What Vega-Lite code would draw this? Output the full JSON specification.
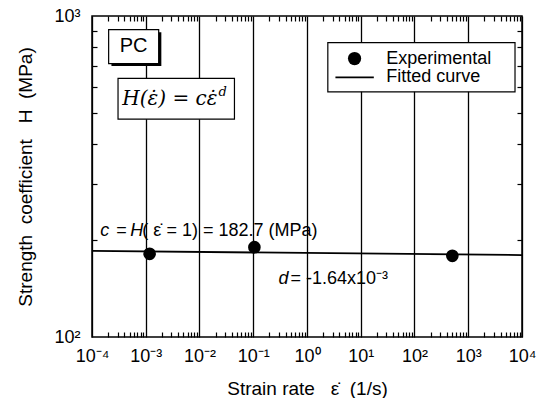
{
  "$schema": "https://vega.github.io/schema/vega-lite/v6.json",
  "width": 430,
  "height": 321,
  "autosize": {"type": "none"},
  "padding": {"left": 92, "top": 16, "right": 24, "bottom": 61},
  "background": "white",
  "config": {
    "view": {"stroke": "black", "strokeWidth": 1.5},
    "font": "Liberation Sans",
    "axis": {
      "domain": false,
      "labelFont": "Liberation Sans",
      "titleFont": "Liberation Sans",
      "labelColor": "black",
      "titleColor": "black",
      "tickColor": "black",
      "tickWidth": 1.2,
      "labelFontSize": 18,
      "titleFontSize": 19,
      "titleFontWeight": "normal",
      "labelOverlap": false,
      "labelFlush": false
    }
  },
  "resolve": {"axis": {"x": "independent", "y": "independent"}},
  "layer": [
    {
      "data": {"values": [{"x": 0.0001, "y": 185.48}, {"x": 10000, "y": 179.96}]},
      "mark": {"type": "line", "color": "black", "strokeWidth": 1.8},
      "encoding": {
        "x": {
          "field": "x", "type": "quantitative",
          "scale": {"type": "log", "domain": [0.0001, 10000]},
          "axis": {
            "orient": "bottom",
            "values": [0.0001,0.001,0.01,0.1,1,10,100,1000,10000],
            "grid": true,
            "gridColor": "black",
            "gridWidth": 1.3,
            "gridOpacity": 1,
            "ticks": false,
            "labelExpr": "['10⁻⁴','10⁻³','10⁻²','10⁻¹','10⁰','10¹','10²','10³','10⁴'][round(log(datum.value)/LN10)+4]",
            "labelPadding": 10,
            "title": "Strain rate \u00a0 ε̇ \u00a0(1/s)",
            "titlePadding": 14
          }
        },
        "y": {
          "field": "y", "type": "quantitative",
          "scale": {"type": "log", "domain": [100, 1000]},
          "axis": {
            "orient": "left",
            "values": [100,1000],
            "grid": false,
            "ticks": false,
            "labelExpr": "datum.value==100 ? '10²' : '10³'",
            "labelPadding": 12,
            "title": "Strength \u00a0coefficient \u00a0 H \u00a0(MPa)",
            "titlePadding": 18
          }
        }
      }
    },
    {
      "data": {"values": [{"x": 0.00118, "y": 181.6}, {"x": 0.105, "y": 190.5}, {"x": 506, "y": 179.0}]},
      "mark": {"type": "circle", "color": "black", "opacity": 1, "size": 160},
      "encoding": {
        "x": {
          "field": "x", "type": "quantitative",
          "scale": {"type": "log", "domain": [0.0001, 10000]},
          "axis": {
            "orient": "top",
            "values": [0.0002,0.0003,0.0004,0.0005,0.0006,0.0007,0.0008,0.0009,0.002,0.003,0.004,0.005,0.006,0.007,0.008,0.009,0.02,0.03,0.04,0.05,0.06,0.07,0.08,0.09,0.2,0.3,0.4,0.5,0.6,0.7,0.8,0.9,2,3,4,5,6,7,8,9,20,30,40,50,60,70,80,90,200,300,400,500,600,700,800,900,2000,3000,4000,5000,6000,7000,8000,9000],
            "grid": false, "labels": false, "ticks": true, "tickSize": 5, "offset": -5, "title": null
          }
        },
        "y": {
          "field": "y", "type": "quantitative",
          "scale": {"type": "log", "domain": [100, 1000]},
          "axis": {
            "orient": "right",
            "values": [200,300,400,500,600,700,800,900],
            "grid": false, "labels": false, "ticks": true, "tickSize": 5, "offset": -5, "title": null
          }
        }
      }
    },
    {
      "data": {"values": [{"x1": 0.00023, "x2": 0.00195, "y1": 698, "y2": 890}]},
      "mark": {"type": "rect", "color": "black"},
      "encoding": {
        "x": {"field": "x1", "type": "quantitative", "scale": {"type": "log", "domain": [0.0001, 10000]}, "axis": null},
        "x2": {"field": "x2"},
        "y": {"field": "y1", "type": "quantitative", "scale": {"type": "log", "domain": [100, 1000]}, "axis": null},
        "y2": {"field": "y2"}
      }
    },
    {
      "data": {"values": [
        {"x1": 0.000204, "x2": 0.00174, "y1": 711, "y2": 907},
        {"x1": 0.000305, "x2": 0.0447, "y1": 477, "y2": 639},
        {"x1": 2.44, "x2": 7413, "y1": 580.3, "y2": 826.6}
      ]},
      "mark": {"type": "rect", "fill": "white", "stroke": "black", "strokeWidth": 1.2},
      "encoding": {
        "x": {"field": "x1", "type": "quantitative", "scale": {"type": "log", "domain": [0.0001, 10000]}, "axis": null},
        "x2": {"field": "x2"},
        "y": {"field": "y1", "type": "quantitative", "scale": {"type": "log", "domain": [100, 1000]}, "axis": null},
        "y2": {"field": "y2"}
      }
    },
    {
      "data": {"values": [{"x": 0.000596, "y": 805, "label": "PC"}]},
      "mark": {"type": "text", "font": "Liberation Sans", "fontSize": 20, "align": "center", "baseline": "middle", "color": "black"},
      "encoding": {
        "x": {"field": "x", "type": "quantitative", "scale": {"type": "log", "domain": [0.0001, 10000]}, "axis": null},
        "y": {"field": "y", "type": "quantitative", "scale": {"type": "log", "domain": [100, 1000]}, "axis": null},
        "text": {"field": "label"}
      }
    },
    {
      "data": {"values": [{"x": 0.000366, "y": 552.7, "label": "H(ε̇) = cε̇"}]},
      "mark": {"type": "text", "font": "DejaVu Serif", "fontStyle": "italic", "fontSize": 20, "align": "left", "baseline": "middle", "color": "black"},
      "encoding": {
        "x": {"field": "x", "type": "quantitative", "scale": {"type": "log", "domain": [0.0001, 10000]}, "axis": null},
        "y": {"field": "y", "type": "quantitative", "scale": {"type": "log", "domain": [100, 1000]}, "axis": null},
        "text": {"field": "label"}
      }
    },
    {
      "data": {"values": [{"x": 0.0225, "y": 578, "label": "d"}]},
      "mark": {"type": "text", "font": "DejaVu Serif", "fontStyle": "italic", "fontSize": 13, "align": "left", "baseline": "middle", "color": "black"},
      "encoding": {
        "x": {"field": "x", "type": "quantitative", "scale": {"type": "log", "domain": [0.0001, 10000]}, "axis": null},
        "y": {"field": "y", "type": "quantitative", "scale": {"type": "log", "domain": [100, 1000]}, "axis": null},
        "text": {"field": "label"}
      }
    },
    {
      "data": {"values": [{"x": 7.67, "y": 737}]},
      "mark": {"type": "circle", "color": "black", "opacity": 1, "size": 175},
      "encoding": {
        "x": {
          "field": "x", "type": "quantitative",
          "scale": {"type": "log", "domain": [0.0001, 10000]},
          "axis": {
            "orient": "bottom",
            "values": [0.0002,0.0003,0.0004,0.0005,0.0006,0.0007,0.0008,0.0009,0.002,0.003,0.004,0.005,0.006,0.007,0.008,0.009,0.02,0.03,0.04,0.05,0.06,0.07,0.08,0.09,0.2,0.3,0.4,0.5,0.6,0.7,0.8,0.9,2,3,4,5,6,7,8,9,20,30,40,50,60,70,80,90,200,300,400,500,600,700,800,900,2000,3000,4000,5000,6000,7000,8000,9000],
            "grid": false, "labels": false, "ticks": true, "tickSize": 5, "offset": -5, "title": null
          }
        },
        "y": {
          "field": "y", "type": "quantitative",
          "scale": {"type": "log", "domain": [100, 1000]},
          "axis": {
            "orient": "left",
            "values": [200,300,400,500,600,700,800,900],
            "grid": false, "labels": false, "ticks": true, "tickSize": 5, "offset": -5, "title": null
          }
        }
      }
    },
    {
      "data": {"values": [{"x1": 3.38, "x2": 17.5, "y": 643.5}]},
      "mark": {"type": "rule", "color": "black", "strokeWidth": 1.8},
      "encoding": {
        "x": {"field": "x1", "type": "quantitative", "scale": {"type": "log", "domain": [0.0001, 10000]}, "axis": null},
        "x2": {"field": "x2"},
        "y": {"field": "y", "type": "quantitative", "scale": {"type": "log", "domain": [100, 1000]}, "axis": null}
      }
    },
    {
      "data": {"values": [
        {"x": 29.9, "y": 737, "label": "Experimental"},
        {"x": 29.9, "y": 643.5, "label": "Fitted curve"},
        {"x": 0.000283, "y": 214.6, "label": "="},
        {"x": 0.000865, "y": 214.6, "label": "( ε̇ = 1) = 182.7 (MPa)"},
        {"x": 0.493, "y": 151.8, "label": "= -1.64x10⁻³"}
      ]},
      "mark": {"type": "text", "font": "Liberation Sans", "fontSize": 18, "align": "left", "baseline": "middle", "color": "black"},
      "encoding": {
        "x": {"field": "x", "type": "quantitative", "scale": {"type": "log", "domain": [0.0001, 10000]}, "axis": null},
        "y": {"field": "y", "type": "quantitative", "scale": {"type": "log", "domain": [100, 1000]}, "axis": null},
        "text": {"field": "label"}
      }
    },
    {
      "data": {"values": [
        {"x": 0.000143, "y": 214.6, "label": "c"},
        {"x": 0.000516, "y": 214.6, "label": "H"},
        {"x": 0.295, "y": 151.8, "label": "d"}
      ]},
      "mark": {"type": "text", "font": "Liberation Sans", "fontStyle": "italic", "fontSize": 18, "align": "left", "baseline": "middle", "color": "black"},
      "encoding": {
        "x": {"field": "x", "type": "quantitative", "scale": {"type": "log", "domain": [0.0001, 10000]}, "axis": null},
        "y": {"field": "y", "type": "quantitative", "scale": {"type": "log", "domain": [100, 1000]}, "axis": null},
        "text": {"field": "label"}
      }
    }
  ]
}
